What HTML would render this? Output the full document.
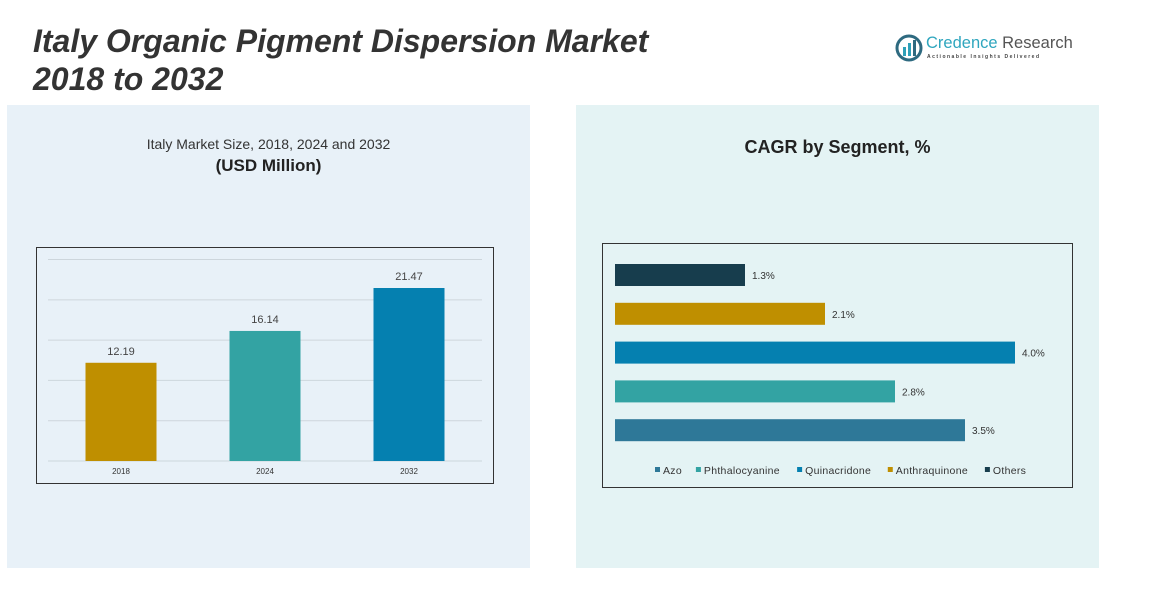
<!DOCTYPE html>
<html><head><meta charset="utf-8"><style>
body{margin:0;width:1156px;height:613px;background:#fff;font-family:"Liberation Sans",sans-serif;position:relative;overflow:hidden}
.t{position:absolute;left:33px;top:22px;font-size:32px;font-weight:bold;font-style:italic;color:#333;line-height:38px}
.panel{position:absolute;top:105px;height:463px}
</style></head><body>
<div class="t">Italy Organic Pigment Dispersion Market<br>2018 to 2032</div>
<div style="position:absolute;left:895px;top:33px;width:180px;height:30px">
<svg width="28" height="28" style="position:absolute;left:0;top:1px"><circle cx="14" cy="14" r="12" fill="none" stroke="#2e6a80" stroke-width="3"/><rect x="8" y="13" width="3" height="9" fill="#2ea0b8"/><rect x="13" y="9" width="3" height="13" fill="#2ea0b8"/><rect x="18" y="6" width="3" height="16" fill="#2e6a80"/></svg>
<div style="position:absolute;left:31px;top:1px;font-size:16.5px;color:#2fa6be;white-space:nowrap">Credence <span style="color:#555">Research</span></div>
<div style="position:absolute;left:32px;top:21px;font-size:5px;letter-spacing:1.5px;color:#444;font-weight:bold;white-space:nowrap">Actionable Insights Delivered</div>
</div>
<div class="panel" style="left:7px;width:523px;background:#e8f1f8"></div>
<div class="panel" style="left:576px;width:523px;background:#e4f3f4"></div>
<div style="position:absolute;left:7px;width:523px;top:136px;text-align:center;font-size:14px;color:#333">Italy Market Size, 2018, 2024 and 2032</div>
<div style="position:absolute;left:7px;width:523px;top:156px;text-align:center;font-size:17px;font-weight:bold;color:#222">(USD Million)</div>
<div style="position:absolute;left:576px;width:523px;top:137px;text-align:center;font-size:18px;font-weight:bold;color:#222">CAGR by Segment, %</div>
<svg id="c1" style="position:absolute;left:0;top:0" width="1156" height="613"></svg>
<script>
const years=["2018","2024","2032"];
const sizes=[12.19,16.14,21.47];
const sizeLabels=["12.19","16.14","21.47"];
const yTicks=[0,5,10,15,20,25];
const segs=["Others","Anthraquinone","Quinacridone","Phthalocyanine","Azo"];
const cagr=[1.3,2.1,4.0,2.8,3.5];
const cagrLabels=["1.3%","2.1%","4.0%","2.8%","3.5%"];
const legendOrder=["Azo","Phthalocyanine","Quinacridone","Anthraquinone","Others"];
const ns="http://www.w3.org/2000/svg";
const svg=document.getElementById('c1');
function mk(t,a){const e=document.createElementNS(ns,t);for(const k in a)e.setAttribute(k,a[k]);svg.appendChild(e);return e;}
const colYear=["#bf8f00","#33a3a3","#0580b0"];
const colSeg={"Azo":"#2e7898","Phthalocyanine":"#33a3a3","Quinacridone":"#0580b0","Anthraquinone":"#bf8f00","Others":"#173d4d"};
let b=mk('rect',{x:36.5,y:247.5,width:457,height:236,fill:"none",stroke:"#333","stroke-width":1});


const y0=461,ppu=173/21.47;
const ys=v=>y0-v*ppu;
yTicks.forEach(v=>{const g=mk('line',{x1:48,x2:482,y1:ys(v),y2:ys(v),stroke:"#cdd6dc","stroke-width":1});

});
const xc=i=>121+i*144;
years.forEach((yr,i)=>{
const r=mk('rect',{x:xc(i)-35.5,y:ys(sizes[i]),width:71,height:sizes[i]*ppu,fill:colYear[i]});


const l=mk('text',{x:xc(i),y:ys(sizes[i])-8,"text-anchor":"middle","font-size":11,fill:"#444"});l.textContent=sizeLabels[i];


const xl=mk('text',{x:xc(i),y:474,"text-anchor":"middle","font-size":8,fill:"#333"});xl.textContent=yr;


});
let b2=mk('rect',{x:602.5,y:243.5,width:470,height:244,fill:"none",stroke:"#333","stroke-width":1});


const x0=615,ppp=100;
segs.forEach((s,i)=>{
const cy=275+i*38.8;
const r=mk('rect',{x:x0,y:cy-11,width:cagr[i]*ppp,height:22,fill:colSeg[s]});


const l=mk('text',{x:x0+cagr[i]*ppp+7,y:cy+4,"font-size":10,fill:"#333"});l.textContent=cagrLabels[i];


});
let lx=655;
legendOrder.forEach(s=>{
const sq=mk('rect',{x:lx,y:467,width:5,height:5,fill:colSeg[s]});


const t=mk('text',{x:lx+8,y:474,"font-size":10.5,fill:"#333","letter-spacing":"0.3"});t.textContent=s;


lx+=8+t.getComputedTextLength()+s.length*0.3+13;
});
</script>
</body></html>
